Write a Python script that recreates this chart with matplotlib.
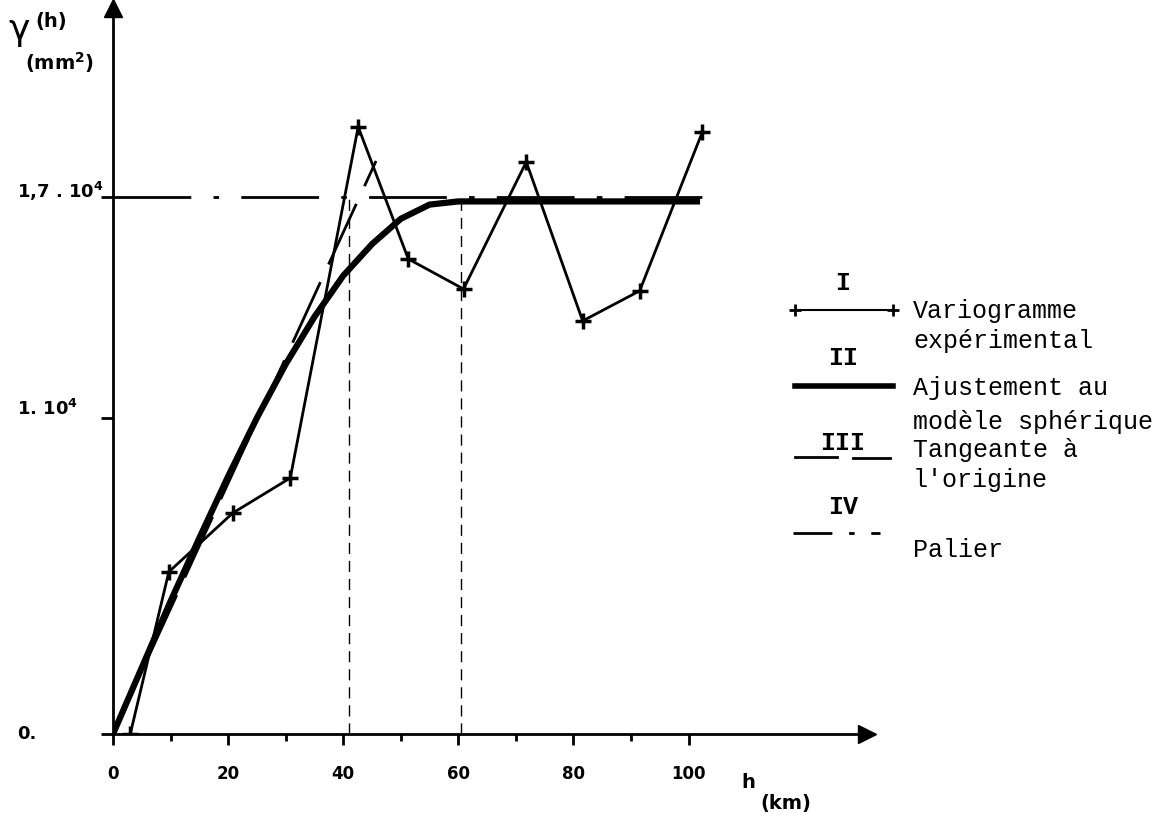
import matplotlib.pyplot as plt
from matplotlib import transforms

# experimental variogram (h in km, gamma in mm2)
h_exp = [3, 9.7, 20.8, 30.8, 42.6, 51.3, 60.9, 71.8, 81.6, 91.5, 102.4]
g_exp = [0, 5130, 6990, 8100, 19210, 15030, 14080, 18100, 13070, 14020, 19050]

# spherical model fit
h_sph = [0, 5, 10, 15, 20, 25, 30, 35, 40, 45, 50, 55, 60, 102]
g_sph = [0, 2100, 4200, 6200, 8150, 10000, 11700, 13200, 14500, 15500, 16300, 16750, 16850, 16850]

# tangent at origin
h_tan = [0, 45.7]
g_tan = [0, 18130]

# sill
sill = 17000
h_sill = [0, 104]
range_marks = [41, 60.5]

ytick_vals = [0, 10000, 17000]
ytick_txt = ["0.", "1. 10$^4$", "1,7 . 10$^4$"]
xtick_major = [0, 20, 40, 60, 80, 100]
xtick_minor = [10, 30, 50, 70, 90]

plt.rcParams['mathtext.default'] = 'regular'

fig = plt.figure(figsize=(11.72, 8.16), dpi=100)
ax = fig.add_axes([113/1172, 82/816, 754/1172, 726/816])
ax.set_xlim(0, 131)
ax.set_ylim(0, 22970)

for s in ['top', 'right']:
    ax.spines[s].set_visible(False)
ax.spines['left'].set_linewidth(2)
ax.spines['bottom'].set_linewidth(2)
ax.plot(131, 0, '>k', ms=13, clip_on=False)
ax.plot(0, 22970, '^k', ms=13, clip_on=False)

ax.set_xticks(xtick_major)
ax.set_xticks(xtick_minor, minor=True)
ax.tick_params(axis='x', which='major', direction='out', length=8, width=2, pad=14,
               labelsize=12)
ax.tick_params(axis='x', which='minor', direction='out', length=5, width=2)
for lab in ax.get_xticklabels():
    lab.set_fontweight('bold')
ax.set_yticks(ytick_vals)
ax.set_yticklabels([])
ax.tick_params(axis='y', direction='out', length=9, width=2)

trans = transforms.blended_transform_factory(fig.transFigure, ax.transData)
offs = [0, 300, 150]
for v, t, o in zip(ytick_vals, ytick_txt, offs):
    ax.text(17/1172, v + o, t, transform=trans, ha='left', va='center',
            fontsize=13, fontweight='bold', clip_on=False)

# curves
ax.plot(h_sill, [sill, sill], color='k', lw=2, dashes=(28, 8, 2, 8))
for h in range_marks:
    ax.plot([h, h], [0, sill], color='k', lw=1, dashes=(8, 5))
ax.plot(h_tan, g_tan, color='k', lw=2, dashes=(24, 7))
ax.plot(h_sph, g_sph, color='k', lw=4.5, solid_capstyle='butt')
ax.plot(h_exp, g_exp, color='k', lw=2, marker='+', ms=12, mew=2.5)

# axis labels
fig.text(8/1172, 1 - 30/816, "γ", fontsize=26, ha='left', va='center')
fig.text(35/1172, 1 - 22/816, "(h)", fontsize=14, fontweight='bold', ha='left', va='center')
fig.text(25/1172, 1 - 63/816, "(mm$^2$)", fontsize=14, fontweight='bold', ha='left', va='center')
fig.text(748/1172, 1 - 782/816, "h", fontsize=14, fontweight='bold', ha='center', va='center')
fig.text(760/1172, 1 - 803/816, "(km)", fontsize=14, fontweight='bold', ha='left', va='center')

# hand drawn legend on the right
mono = 'Liberation Mono'
lx0, lx1 = 795/1172, 893/1172
tx = 913/1172
def fy(p):
    return 1 - p/816

fig.text(843/1172, fy(283), "I", family=mono, fontsize=18, fontweight='bold', ha='center', va='center')
fig.add_artist(plt.Line2D([lx0, lx1], [fy(310), fy(310)], color='k', lw=1.5,
                          marker='+', ms=8, mew=2, markevery=[0, 1]))
fig.text(tx, fy(311), "Variogramme", family=mono, fontsize=18, va='center')
fig.text(tx, fy(341), "expérimental", family=mono, fontsize=18, va='center')

fig.text(843/1172, fy(358), "II", family=mono, fontsize=18, fontweight='bold', ha='center', va='center')
fig.add_artist(plt.Line2D([lx0, lx1], [fy(386), fy(386)], color='k', lw=4))
fig.text(tx, fy(388), "Ajustement au", family=mono, fontsize=18, va='center')
fig.text(tx, fy(422), "modèle sphérique", family=mono, fontsize=18, va='center')

fig.text(843/1172, fy(443), "III", family=mono, fontsize=18, fontweight='bold', ha='center', va='center')
fig.add_artist(plt.Line2D([lx0, 837/1172], [fy(457), fy(457)], color='k', lw=2))
fig.add_artist(plt.Line2D([853/1172, 890/1172], [fy(458), fy(458)], color='k', lw=2))
fig.text(tx, fy(450), "Tangeante à", family=mono, fontsize=18, va='center')
fig.text(tx, fy(480), "l'origine", family=mono, fontsize=18, va='center')

fig.text(843/1172, fy(507), "IV", family=mono, fontsize=18, fontweight='bold', ha='center', va='center')
fig.add_artist(plt.Line2D([793/1172, 880/1172], [fy(533), fy(533)], color='k', lw=2,
                          dashes=(14, 6, 2, 6)))
fig.text(tx, fy(550), "Palier", family=mono, fontsize=18, va='center')

fig.savefig("out.png", dpi=100)
